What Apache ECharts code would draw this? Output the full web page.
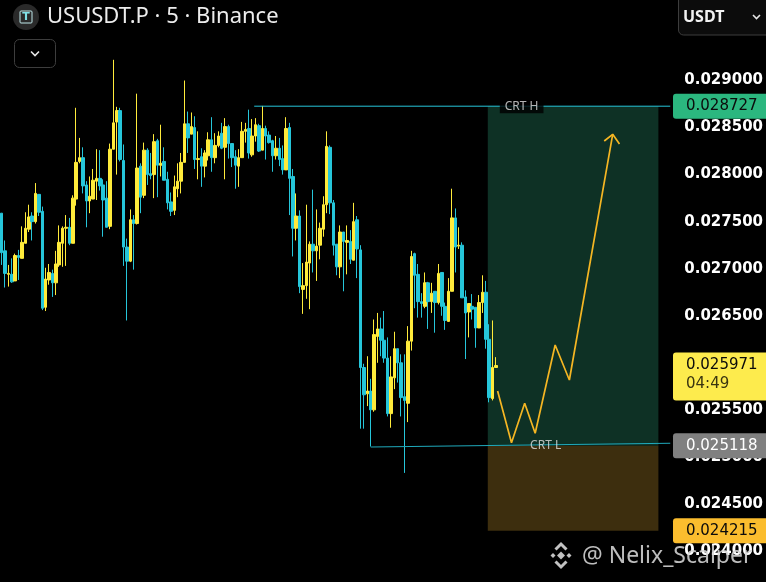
<!DOCTYPE html>
<html>
<head>
<meta charset="utf-8">
<script src="https://cdn.jsdelivr.net/npm/echarts@6/dist/echarts.min.js"></script>
<style>
html,body{margin:0;padding:0;background:#000;}
#c{width:766px;height:582px;}
</style>
</head>
<body>
<div id="c"></div>
<script>
// ---- data (5-minute candles, USUSDT.P) ----
const slotCount = 198; // candle slots on the time axis (147 candles + empty right space)
const categories = Array.from({length: slotCount}, (_, i) => 'bar' + (i + 1));

const opens = [0.02759,0.02719,0.02694,0.02694,0.02687,0.02714,0.02711,0.02727,0.02742,0.02756,
0.02750,0.02779,0.02761,0.02659,0.02688,0.02695,0.02685,0.02704,0.02727,0.02743,
0.02744,0.02727,0.02774,0.02814,0.02818,0.02789,0.02772,0.02774,0.02793,0.02796,
0.02789,0.02775,0.02745,0.02827,0.02856,0.02868,0.02815,0.02723,0.02708,0.02752,
0.02748,0.02809,0.02778,0.02826,0.02801,0.02800,0.02836,0.02810,0.02814,0.02795,
0.02771,0.02762,0.02785,0.02793,0.02813,0.02854,0.02843,0.02850,0.02816,0.02819,
0.02809,0.02820,0.02837,0.02818,0.02831,0.02844,0.02829,0.02851,0.02833,0.02819,
0.02809,0.02818,0.02846,0.02849,0.02821,0.02841,0.02852,0.02826,0.02849,0.02842,
0.02836,0.02820,0.02828,0.02817,0.02805,0.02850,0.02798,0.02743,0.02756,0.02678,
0.02682,0.02706,0.02726,0.02719,0.02725,0.02742,0.02768,0.02829,0.02770,0.02726,
0.02702,0.02739,0.02728,0.02729,0.02709,0.02752,0.02720,0.02595,0.02567,0.02570,
0.02550,0.02628,0.02636,0.02624,0.02605,0.02546,0.02584,0.02615,0.02600,0.02564,
0.02557,0.02623,0.02716,0.02694,0.02665,0.02660,0.02685,0.02665,0.02676,0.02664,
0.02696,0.02660,0.02644,0.02676,0.02754,0.02724,0.02725,0.02670,0.02654,0.02660,
0.02659,0.02637,0.02664,0.02675,0.02625,0.02562,0.02595];

const closes = [0.02717,0.02695,0.02695,0.02686,0.02714,0.02712,0.02728,0.02743,0.02755,0.02750,
0.02780,0.02760,0.02658,0.02689,0.02696,0.02685,0.02705,0.02728,0.02743,0.02744,
0.02727,0.02775,0.02813,0.02818,0.02788,0.02772,0.02777,0.02794,0.02796,0.02788,
0.02773,0.02744,0.02827,0.02855,0.02868,0.02816,0.02723,0.02708,0.02752,0.02748,
0.02807,0.02776,0.02826,0.02800,0.02799,0.02835,0.02810,0.02812,0.02794,0.02770,
0.02761,0.02787,0.02793,0.02813,0.02854,0.02839,0.02851,0.02816,0.02817,0.02809,
0.02823,0.02837,0.02818,0.02831,0.02841,0.02828,0.02851,0.02833,0.02818,0.02810,
0.02818,0.02846,0.02848,0.02823,0.02841,0.02853,0.02825,0.02849,0.02841,0.02834,
0.02820,0.02828,0.02816,0.02805,0.02849,0.02796,0.02743,0.02756,0.02681,0.02682,
0.02707,0.02726,0.02719,0.02724,0.02743,0.02768,0.02830,0.02770,0.02725,0.02702,
0.02739,0.02729,0.02730,0.02710,0.02750,0.02721,0.02595,0.02566,0.02570,0.02550,
0.02630,0.02636,0.02624,0.02605,0.02546,0.02585,0.02615,0.02600,0.02563,0.02560,
0.02623,0.02713,0.02693,0.02665,0.02663,0.02685,0.02665,0.02674,0.02664,0.02695,
0.02660,0.02645,0.02676,0.02754,0.02723,0.02725,0.02669,0.02653,0.02663,0.02657,
0.02637,0.02664,0.02675,0.02625,0.02563,0.02595,0.025971];

const lows = [0.02704,0.02680,0.02681,0.02685,0.02687,0.02688,0.02711,0.02727,0.02739,0.02730,
0.02748,0.02756,0.02656,0.02655,0.02683,0.02670,0.02672,0.02702,0.02702,0.02703,
0.02725,0.02727,0.02767,0.02812,0.02780,0.02744,0.02759,0.02774,0.02773,0.02783,
0.02734,0.02744,0.02742,0.02827,0.02800,0.02814,0.02703,0.02645,0.02707,0.02699,
0.02747,0.02759,0.02775,0.02789,0.02795,0.02775,0.02776,0.02798,0.02794,0.02763,
0.02756,0.02757,0.02776,0.02780,0.02813,0.02823,0.02843,0.02806,0.02795,0.02787,
0.02797,0.02815,0.02803,0.02812,0.02829,0.02827,0.02795,0.02817,0.02808,0.02785,
0.02787,0.02818,0.02834,0.02817,0.02819,0.02835,0.02824,0.02826,0.02816,0.02833,
0.02803,0.02816,0.02809,0.02800,0.02805,0.02757,0.02713,0.02730,0.02674,0.02652,
0.02668,0.02657,0.02696,0.02687,0.02710,0.02734,0.02759,0.02758,0.02714,0.02693,
0.02690,0.02676,0.02694,0.02705,0.02709,0.02690,0.02530,0.02530,0.02554,0.02511,
0.02548,0.02600,0.02607,0.02600,0.02543,0.02531,0.02572,0.02579,0.02543,0.02483,
0.02537,0.02613,0.02658,0.02648,0.02648,0.02658,0.02636,0.02653,0.02632,0.02662,
0.02650,0.02635,0.02644,0.02676,0.02696,0.02721,0.02669,0.02604,0.02627,0.02646,
0.02616,0.02637,0.02653,0.02615,0.02558,0.02560,0.02595];

const highs = [0.02759,0.02730,0.02704,0.02711,0.02716,0.02720,0.02745,0.02760,0.02768,0.02760,
0.02791,0.02779,0.02766,0.02701,0.02705,0.02699,0.02719,0.02746,0.02745,0.02757,
0.02754,0.02778,0.02871,0.02839,0.02829,0.02793,0.02798,0.02806,0.02827,0.02826,
0.02795,0.02793,0.02833,0.02922,0.02872,0.02871,0.02832,0.02732,0.02763,0.02757,
0.02886,0.02812,0.02834,0.02828,0.02823,0.02843,0.02838,0.02853,0.02829,0.02803,
0.02781,0.02799,0.02812,0.02823,0.02900,0.02867,0.02866,0.02862,0.02846,0.02828,
0.02826,0.02845,0.02861,0.02844,0.02846,0.02855,0.02860,0.02853,0.02833,0.02826,
0.02827,0.02856,0.02855,0.02869,0.02859,0.02860,0.02854,0.02873,0.02852,0.02846,
0.02837,0.02841,0.02839,0.02831,0.02861,0.02855,0.02806,0.02780,0.02762,0.02706,
0.02768,0.02729,0.02784,0.02763,0.02749,0.02777,0.02846,0.02831,0.02773,0.02726,
0.02746,0.02739,0.02746,0.02741,0.02770,0.02756,0.02725,0.02599,0.02607,0.02583,
0.02646,0.02653,0.02648,0.02655,0.02627,0.02607,0.02633,0.02615,0.02609,0.02609,
0.02639,0.02719,0.02717,0.02705,0.02674,0.02696,0.02686,0.02685,0.02676,0.02705,
0.02696,0.02664,0.02690,0.02785,0.02764,0.02744,0.02728,0.02677,0.02663,0.02673,
0.02659,0.02672,0.02693,0.02687,0.02641,0.02645,0.02606];

// price-axis ticks
const axisMin = 0.024, axisMax = 0.029, axisStep = 0.0005;

// levels / tags
const lastPrice = 0.025971;
const lastTimer = '04:49';
const targetPrice = 0.028727;   // CRT H / target
const entryPrice = 0.025118;    // CRT L / entry
const stopPrice = 0.024215;     // stop

// drawings, in [bar-slot position, price]
const crtHLine = [[75.1, 0.028727], [198, 0.028727]];
const crtLLine = [[109.5, 0.025105], [198, 0.025145]];
const boxX = [144.1, 194.5];
const pathPts = [[147.0, 0.025700], [151.1, 0.025151], [155.0, 0.025570], [158.1, 0.025251],
                 [164.0, 0.026189], [168.2, 0.025817], [181.0, 0.028428]];
const arrowPts = [[178.5, 0.028357], [181.0, 0.028428], [183.0, 0.028325]];
const crtLabels = [{name: 'CRT H', pos: [154.1, 0.028727]}, {name: 'CRT L', pos: [161.2, 0.025118]}];

const candleData = opens.map((o, i) => [o, closes[i], lows[i], highs[i]]);

const UP = '#ffeb3b', DOWN = '#26c6da';

const chart = echarts.init(document.getElementById('c'), null, {renderer: 'canvas'});
const option = {
  backgroundColor: '#000000',
  animation: false,
  grid: {left: 0, right: 94, top: 80.5, bottom: 31},
  xAxis: [
    {type: 'category', data: categories, show: false, boundaryGap: true},
    {type: 'value', min: 0, max: slotCount, show: false}
  ],
  yAxis: {
    type: 'value', position: 'right', min: axisMin, max: axisMax, interval: axisStep,
    axisLine: {show: false}, axisTick: {show: false}, splitLine: {show: false},
    axisLabel: {
      color: '#ffffff', fontFamily: 'DejaVu Sans', fontWeight: 'bold', fontSize: 15,
      margin: 14, align: 'left', formatter: v => v.toFixed(6)
    }
  },
  series: [
    {
      type: 'line', xAxisIndex: 1, data: [], z: 1, silent: true,
      markArea: {
        silent: true,
        data: [
          [{coord: [boxX[0], targetPrice], itemStyle: {color: '#0e3125'}}, {coord: [boxX[1], entryPrice]}],
          [{coord: [boxX[0], entryPrice], itemStyle: {color: '#3d2e0e'}}, {coord: [boxX[1], stopPrice]}]
        ]
      }
    },
    {
      type: 'candlestick', data: candleData, z: 3, clip: false, barWidth: 3,
      itemStyle: {color: UP, color0: DOWN, borderColor: UP, borderColor0: DOWN, borderWidth: 1},
      markLine: {
        silent: true, symbol: 'none', animation: false,
        label: {show: false},
        lineStyle: {color: UP, width: 1, type: [1, 3]},
        data: [{yAxis: lastPrice}]
      }
    },
    {
      type: 'line', xAxisIndex: 1, data: crtHLine, symbol: 'none', silent: true, z: 4,
      lineStyle: {color: DOWN, width: 1}
    },
    {
      type: 'line', xAxisIndex: 1, data: crtLLine, symbol: 'none', silent: true, z: 4,
      lineStyle: {color: '#1fa9bb', width: 1.2}
    },
    {
      type: 'line', xAxisIndex: 1, data: pathPts, symbol: 'none', silent: true, z: 5,
      lineStyle: {color: '#f5b623', width: 1.7}
    },
    {
      type: 'line', xAxisIndex: 1, data: arrowPts, symbol: 'none', silent: true, z: 5,
      lineStyle: {color: '#f5b623', width: 1.7}
    },
    {
      type: 'scatter', xAxisIndex: 1, symbolSize: 0, silent: true, z: 6,
      data: crtLabels.map(d => ({name: d.name, value: d.pos})),
      label: {
        show: true, position: 'inside', formatter: p => p.name,
        color: '#e0e0e0', fontFamily: 'Noto Sans', fontSize: 12,
        backgroundColor: 'rgba(0,0,0,0)'
      }
    }
  ]
};
option.series[6].data[0].label = {backgroundColor: '#000000', padding: [1, 5]};
chart.setOption(option);

function py(p) { return chart.convertToPixel({yAxisIndex: 0}, p); }

function tag(price, fill, textColor) {
  const y = py(price);
  return [
    {type: 'rect', z: 100, shape: {x: 673, y: y - 12.5, width: 93, height: 25, r: [3, 0, 0, 3]}, style: {fill: fill}},
    {type: 'text', z: 101, style: {x: 686, y: y, text: price.toFixed(6), fill: textColor,
      font: '15px "DejaVu Sans"', textVerticalAlign: 'middle', textAlign: 'left'}}
  ];
}

const yl = py(lastPrice);
const graphics = [
  ...tag(targetPrice, '#2bb77f', '#0b0b0b'),
  ...tag(entryPrice, '#808080', '#ffffff'),
  ...tag(stopPrice, '#fbbd2e', '#0b0b0b'),
  {type: 'rect', z: 100, shape: {x: 673, y: yl - 13, width: 93, height: 48, r: [3, 0, 0, 3]}, style: {fill: '#fdeb4d'}},
  {type: 'text', z: 101, style: {x: 686, y: yl, text: lastPrice.toFixed(6), fill: '#0b0b0b',
    font: '15px "DejaVu Sans"', textVerticalAlign: 'middle'}},
  {type: 'text', z: 101, style: {x: 686, y: yl + 19, text: lastTimer, fill: '#3a3510',
    font: '15px "DejaVu Sans"', textVerticalAlign: 'middle'}},
  // header
  {type: 'circle', z: 100, shape: {cx: 26, cy: 17, r: 13}, style: {fill: '#2a2a2a'}},
  {type: 'rect', z: 101, shape: {x: 20, y: 11, width: 12, height: 12, r: 1}, style: {fill: 'none', stroke: '#bfe8ea', lineWidth: 1}},
  {type: 'text', z: 102, style: {x: 26, y: 17.5, text: 'T', fill: '#7fe0e6', font: 'bold 11px "DejaVu Sans"', textAlign: 'center', textVerticalAlign: 'middle'}},
  {type: 'text', z: 101, style: {x: 47, y: 17, text: 'USUSDT.P · 5 · Binance', fill: '#ececec', font: '22px "Noto Sans"', textVerticalAlign: 'middle'}},
  {type: 'rect', z: 100, shape: {x: 14.5, y: 39.5, width: 41, height: 28, r: 5}, style: {fill: '#000', stroke: '#3d3d3d', lineWidth: 1}},
  {type: 'polyline', z: 101, shape: {points: [[31, 51.5], [35, 55.5], [39, 51.5]]}, style: {stroke: '#e6e6e6', lineWidth: 1.6, fill: 'none'}},
  {type: 'rect', z: 100, shape: {x: 678.5, y: -6, width: 95, height: 41, r: 5}, style: {fill: '#0c0c0c', stroke: '#3d3d3d', lineWidth: 1}},
  {type: 'text', z: 101, style: {x: 683, y: 17, text: 'USDT', fill: '#f2f2f2', font: 'bold 16px "Noto Sans"', textVerticalAlign: 'middle'}},
  {type: 'polyline', z: 101, shape: {points: [[753, 15], [756.5, 18.5], [760, 15]]}, style: {stroke: '#e6e6e6', lineWidth: 1.6, fill: 'none'}},
  // watermark
  {type: 'polygon', z: 110, shape: {points: [[561, 551.5], [565, 555.5], [561, 559.5], [557, 555.5]]}, style: {fill: 'rgba(215,215,215,0.9)'}},
  {type: 'polygon', z: 110, shape: {points: [[553, 553], [555.5, 555.5], [553, 558], [550.5, 555.5]]}, style: {fill: 'rgba(215,215,215,0.9)'}},
  {type: 'polygon', z: 110, shape: {points: [[569, 553], [571.5, 555.5], [569, 558], [566.5, 555.5]]}, style: {fill: 'rgba(215,215,215,0.9)'}},
  {type: 'polyline', z: 110, shape: {points: [[555.5, 549.5], [561, 544], [566.5, 549.5]]}, style: {stroke: 'rgba(215,215,215,0.9)', lineWidth: 3, fill: 'none'}},
  {type: 'polyline', z: 110, shape: {points: [[555.5, 561.5], [561, 567], [566.5, 561.5]]}, style: {stroke: 'rgba(215,215,215,0.9)', lineWidth: 3, fill: 'none'}},
  {type: 'text', z: 110, style: {x: 582, y: 556, text: '@ Nelix_Scalper', fill: 'rgba(215,215,215,0.88)', font: '23px "Noto Sans"', textVerticalAlign: 'middle'}}
];
chart.setOption({graphic: graphics});
</script>
</body>
</html>
